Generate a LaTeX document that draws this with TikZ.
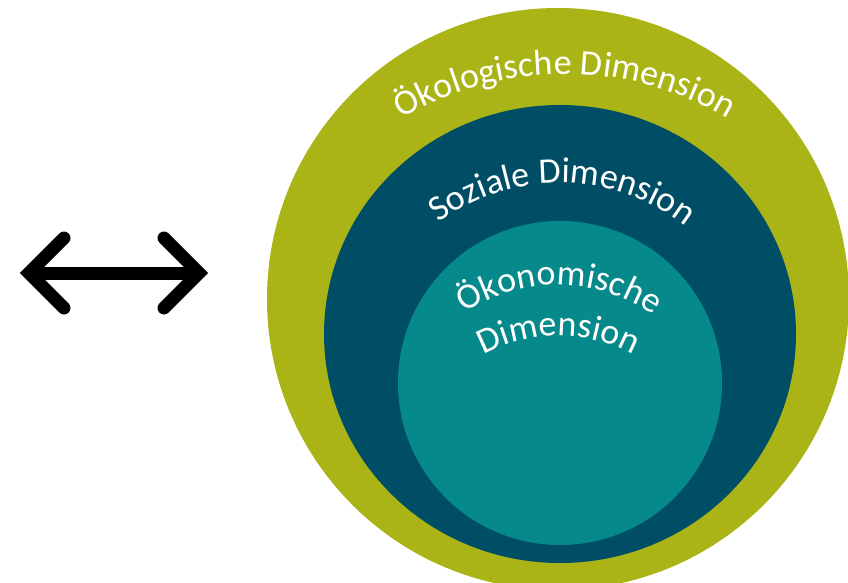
\documentclass[tikz,border=0pt]{standalone}
\usepackage{fontspec}
\setmainfont{Carlito}
\usetikzlibrary{decorations.text}
\definecolor{oekogreen}{HTML}{AAB416}
\definecolor{sozblue}{HTML}{004E66}
\definecolor{oekoteal}{HTML}{05898A}
\tikzset{
  arcText/.style={decorate, decoration={text along path, text align=center,
      text={|\fontsize{36}{42}\selectfont\color{white}|#1}}},
  arrowLine/.style={line width=13pt, black, line cap=butt},
  chevron/.style={line width=13pt, black, line cap=round, line join=miter}
}
\begin{document}
\begin{tikzpicture}[x=1pt,y=1pt]
\useasboundingbox (0,0) rectangle (848,582);
\begin{scope}
  \clip (0,0) rectangle (848,582);
  \fill[oekogreen] (558,283) circle[radius=291pt];
  \fill[sozblue] (560,248) ellipse[x radius=236pt, y radius=229pt];
  \fill[oekoteal] (560,199) circle[radius=162pt];
\end{scope}
% curved labels
\path[arcText={Ökologische Dimension}] (565,189) ++(130:319) arc[start angle=130, end angle=50, radius=319pt];
\path[arcText={Soziale Dimension}] (560,194) ++(135:205) arc[start angle=135, end angle=43.6, radius=205pt];
\path[arcText={Ökonomische}] (558,130) ++(135:167) arc[start angle=135, end angle=44, radius=167pt];
\path[arcText={Dimension}] (558,89) ++(135:157) arc[start angle=135, end angle=44.8, radius=157pt];
% double arrow
\coordinate (aL) at (29,309);
\coordinate (aR) at (199,309);
\draw[arrowLine] (aL) -- (aR);
\draw[chevron] (aL) ++(35,35) -- (aL) -- ++(35,-35);
\draw[chevron] (aR) ++(-35,35) -- (aR) -- ++(-35,-35);
\end{tikzpicture}
\end{document}
